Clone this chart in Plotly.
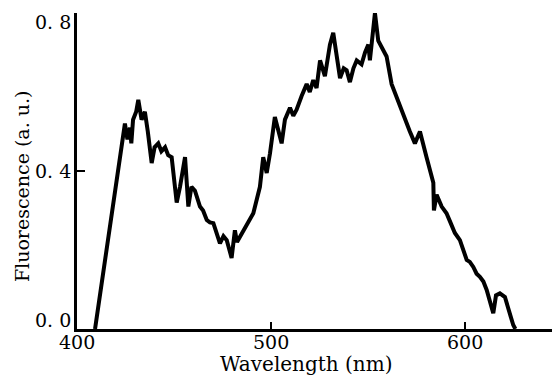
import plotly.graph_objects as go

wavelength = [409.3, 423.0, 424.7, 426.0, 427.3, 428.0, 428.9, 430.5, 431.6, 433.3, 435.0, 436.5,
              438.5, 440.0, 441.9, 443.5, 445.4, 447.0, 448.8, 451.4, 453.1, 455.7, 457.4, 459.0,
              460.8, 463.4, 465.0, 466.9, 468.5, 470.3, 472.0, 473.7, 475.5, 477.2, 479.7, 481.4,
              482.5, 484.0, 487.5, 490.9, 494.3, 496.0, 497.8, 499.5, 502.0, 505.5, 507.2, 509.8,
              511.5, 513.2, 515.8, 518.4, 520.0, 521.8, 523.5, 525.3, 527.8, 530.4, 532.1, 535.6,
              537.5, 539.0, 540.7, 542.5, 544.2, 546.7, 548.5, 550.2, 551.0, 553.6, 555.3, 557.9,
              559.6, 562.2, 564.5, 566.5, 569.0, 571.6, 574.2, 576.8, 580.2, 583.7, 584.0, 585.4,
              588.0, 590.5, 592.5, 594.8, 597.4, 599.0, 600.9, 602.5, 604.3, 606.0, 607.7, 609.5,
              611.2, 614.6, 616.0, 618.0, 620.6, 624.9, 626.0]
fluorescence = [0.0, 0.46, 0.52, 0.48, 0.51, 0.47, 0.53, 0.55, 0.58, 0.53, 0.55, 0.50,
                0.42, 0.46, 0.47, 0.45, 0.46, 0.44, 0.435, 0.32, 0.36, 0.435, 0.31, 0.36,
                0.35, 0.31, 0.30, 0.276, 0.27, 0.268, 0.24, 0.217, 0.235, 0.225, 0.18, 0.25,
                0.22, 0.233, 0.26, 0.293, 0.36, 0.435, 0.395, 0.445, 0.537, 0.47, 0.53, 0.56,
                0.54, 0.555, 0.59, 0.62, 0.60, 0.63, 0.61, 0.68, 0.64, 0.72, 0.75, 0.635,
                0.66, 0.655, 0.625, 0.66, 0.68, 0.67, 0.70, 0.72, 0.68, 0.80, 0.73, 0.705,
                0.69, 0.62, 0.59, 0.56, 0.53, 0.50, 0.47, 0.50, 0.435, 0.37, 0.30, 0.34,
                0.31, 0.293, 0.27, 0.243, 0.225, 0.20, 0.175, 0.17, 0.157, 0.14, 0.132, 0.12,
                0.099, 0.04, 0.085, 0.09, 0.081, 0.01, 0.0]

x_ticks = [400, 500, 600]
x_tick_text = ["400", "500", "600"]
y_ticks = [0.0, 0.4, 0.8]
y_tick_text = ["0. 0", "0. 4", "0. 8"]
x_title = "Wavelength (nm)"
y_title = "Fluorescence (a. u.)"

font_family = "DejaVu Serif, Liberation Serif, serif"

fig = go.Figure()
fig.add_trace(go.Scatter(
    x=wavelength, y=fluorescence, mode="lines",
    line=dict(color="black", width=4),
    showlegend=False, hoverinfo="skip",
))

annotations = []
for v, t in zip(x_ticks, x_tick_text):
    annotations.append(dict(text=t, xref="x", yref="paper", x=v, y=0, yshift=0,
                            xanchor="center", yanchor="top", showarrow=False,
                            font=dict(size=19, family=font_family)))
y_lo, y_hi = min(y_ticks), max(y_ticks)
for v, t in zip(y_ticks, y_tick_text):
    if v == y_hi:
        anchor, shift = "top", 4
    elif v == y_lo:
        anchor, shift = "bottom", -4
    else:
        anchor, shift = "middle", 0
    annotations.append(dict(text=t, xref="paper", yref="y", x=0, y=v, xshift=-4, yshift=shift,
                            xanchor="right", yanchor=anchor, showarrow=False,
                            font=dict(size=19, family=font_family)))
annotations.append(dict(text=x_title, xref="paper", yref="paper", x=0.476, y=-0.11,
                        xanchor="center", yanchor="middle", showarrow=False,
                        font=dict(size=20, family=font_family)))
annotations.append(dict(text=y_title, xref="paper", yref="paper", x=-0.114, y=0.452,
                        xanchor="center", yanchor="middle", textangle=-90, showarrow=False,
                        font=dict(size=19, family=font_family)))

fig.update_layout(
    width=552, height=370,
    margin=dict(l=69, r=0, t=5, b=49, pad=0),
    paper_bgcolor="white", plot_bgcolor="white",
    font=dict(family=font_family, color="black", size=19),
    xaxis=dict(
        range=[400, 649], tickvals=x_ticks, showticklabels=False, automargin=False,
        showgrid=False, zeroline=False, showline=True, linecolor="black", linewidth=2.5,
        ticks="inside", ticklen=7, tickwidth=2, tickcolor="black",
    ),
    yaxis=dict(
        range=[0, 0.8], tickvals=y_ticks, showticklabels=False, automargin=False,
        showgrid=False, zeroline=False, showline=True, linecolor="black", linewidth=2.5,
        ticks="inside", ticklen=8, tickwidth=2, tickcolor="black",
    ),
    annotations=annotations,
)

fig.write_html("out.html")
